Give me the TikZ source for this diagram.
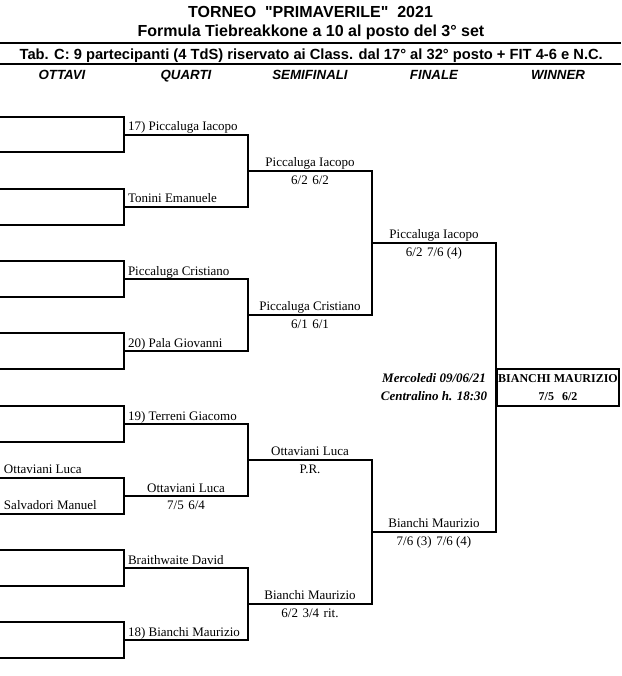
\documentclass[tikz,border=0pt]{standalone}
\usepackage{fontspec}
\setmainfont{Liberation Serif}
\newfontfamily\headfont{Liberation Sans}
\newcommand{\scoregap}{\hspace{4.5pt}}

\begin{document}
\begin{tikzpicture}[x=1pt,y=-1pt,line width=2pt,
    head/.style={inner sep=0pt,anchor=base,font=\headfont\bfseries\fontsize{16}{18}\selectfont},
    subhead/.style={inner sep=0pt,anchor=base,font=\headfont\bfseries\fontsize{14.7}{17}\selectfont},
    colhead/.style={inner sep=0pt,anchor=base,font=\headfont\bfseries\itshape\fontsize{13.3}{15}\selectfont},
    entrant/.style={inner sep=0pt,anchor=base west,font=\fontsize{13}{15}\selectfont},
    match/.style={inner sep=0pt,anchor=base,font=\fontsize{13}{15}\selectfont},
    note/.style={inner sep=0pt,anchor=base,font=\bfseries\itshape\fontsize{13}{15}\selectfont}]

  \useasboundingbox (0,0) rectangle (621,676);

  \node[head] (title) at (310.5,17.5) {TORNEO\ \ "PRIMAVERILE"\ \ 2021};
  \node[head] (formula) at (311,36.7) {Formula Tiebreakkone a 10 al posto del 3° set};
  \node[subhead] (tab) at (311.2,59.3) {Tab. C: 9 partecipanti (4 TdS) riservato ai Class. dal 17° al 32° posto + FIT 4-6 e N.C.};

  \coordinate (r1w) at (0,42.7);
  \coordinate (r1e) at (621,42.7);
  \coordinate (r2w) at (0,64.3);
  \coordinate (r2e) at (621,64.3);
  \draw (r1w) -- (r1e);
  \draw (r2w) -- (r2e);

  \node[colhead] (ottavi) at (62,79.3)  {OTTAVI};
  \node[colhead] (quarti) at (186,79.3) {QUARTI};
  \node[colhead] (semi)   at (310,79.3) {SEMIFINALI};
  \node[colhead] (finale) at (434,79.3) {FINALE};
  \node[colhead] (winner) at (558,79.3) {WINNER};

  \coordinate (a1)  at (0,117);
  \coordinate (a2)  at (0,152.5);
  \coordinate (a3)  at (0,189);
  \coordinate (a4)  at (0,225);
  \coordinate (a5)  at (0,261);
  \coordinate (a6)  at (0,297);
  \coordinate (a7)  at (0,333);
  \coordinate (a8)  at (0,369);
  \coordinate (a9)  at (0,406);
  \coordinate (a10) at (0,442);
  \coordinate (a11) at (0,478);
  \coordinate (a12) at (0,514);
  \coordinate (a13) at (0,550);
  \coordinate (a14) at (0,586);
  \coordinate (a15) at (0,622);
  \coordinate (a16) at (0,658);

  \coordinate (q1) at (124,135);
  \coordinate (q2) at (124,207);
  \coordinate (q3) at (124,279);
  \coordinate (q4) at (124,351);
  \coordinate (q5) at (124,424);
  \coordinate (q6) at (124,496);
  \coordinate (q7) at (124,568);
  \coordinate (q8) at (124,640);

  \coordinate (s1) at (248,171);
  \coordinate (s2) at (248,315);
  \coordinate (s3) at (248,460);
  \coordinate (s4) at (248,604);

  \coordinate (f1) at (372,243);
  \coordinate (f2) at (372,532);

  \coordinate (w) at (496,387.5);

  \draw (a1)  -| (q1) |- (a2);
  \draw (a3)  -| (q2) |- (a4);
  \draw (a5)  -| (q3) |- (a6);
  \draw (a7)  -| (q4) |- (a8);
  \draw (a9)  -| (q5) |- (a10);
  \draw (a11) -| (q6) |- (a12);
  \draw (a13) -| (q7) |- (a14);
  \draw (a15) -| (q8) |- (a16);

  \draw (q1) -| (s1) |- (q2);
  \draw (q3) -| (s2) |- (q4);
  \draw (q5) -| (s3) |- (q6);
  \draw (q7) -| (s4) |- (q8);

  \draw (s1) -| (f1) |- (s2);
  \draw (s3) -| (f2) |- (s4);

  \draw (f1) -| (w) |- (f2);

  \node[draw,anchor=west,minimum width=122pt,minimum height=37pt,inner sep=0pt,
        align=center,font=\bfseries\fontsize{12}{18.3}\selectfont] (champ) at (w)
        {BIANCHI MAURIZIO\\7/5\hspace{8pt}6/2};

  \node[entrant] (o11) at (3,473.5) {Ottaviani Luca};
  \node[entrant] (o12) at (3,509.5) {Salvadori Manuel};

  \node[entrant] (p1) at (127,131) {17) Piccaluga Iacopo};
  \node[entrant] (p2) at (127,203) {Tonini Emanuele};
  \node[entrant] (p3) at (127,275) {Piccaluga Cristiano};
  \node[entrant] (p4) at (127,347) {20) Pala Giovanni};
  \node[entrant] (p5) at (127,420) {19) Terreni Giacomo};
  \node[match]   (p6) at (186,492) {Ottaviani Luca};
  \node[match]   (r6) at (186,509.5) {7/5\scoregap6/4};
  \node[entrant] (p7) at (127,564) {Braithwaite David};
  \node[entrant] (p8) at (127,636) {18) Bianchi Maurizio};

  \node[match] (sp1) at (310,166.7) {Piccaluga Iacopo};
  \node[match] (sr1) at (310,184.3) {6/2\scoregap6/2};
  \node[match] (sp2) at (310,310.7) {Piccaluga Cristiano};
  \node[match] (sr2) at (310,328.3) {6/1\scoregap6/1};
  \node[match] (sp3) at (310,455.7) {Ottaviani Luca};
  \node[match] (sr3) at (310,473.3) {P.R.};
  \node[match] (sp4) at (310,599.7) {Bianchi Maurizio};
  \node[match] (sr4) at (310,617.3) {6/2\scoregap3/4\scoregap rit.};

  \node[match] (fp1) at (434,238.5) {Piccaluga Iacopo};
  \node[match] (fr1) at (434,256.7) {6/2\scoregap7/6 (4)};
  \node[match] (fp2) at (434,527.5) {Bianchi Maurizio};
  \node[match] (fr2) at (434,545.7) {7/6 (3)\scoregap7/6 (4)};

  \node[note] (day)  at (434,382.3) {Mercoledi 09/06/21};
  \node[note] (hour) at (434,400)   {Centralino h. 18:30};

\end{tikzpicture}
\end{document}
